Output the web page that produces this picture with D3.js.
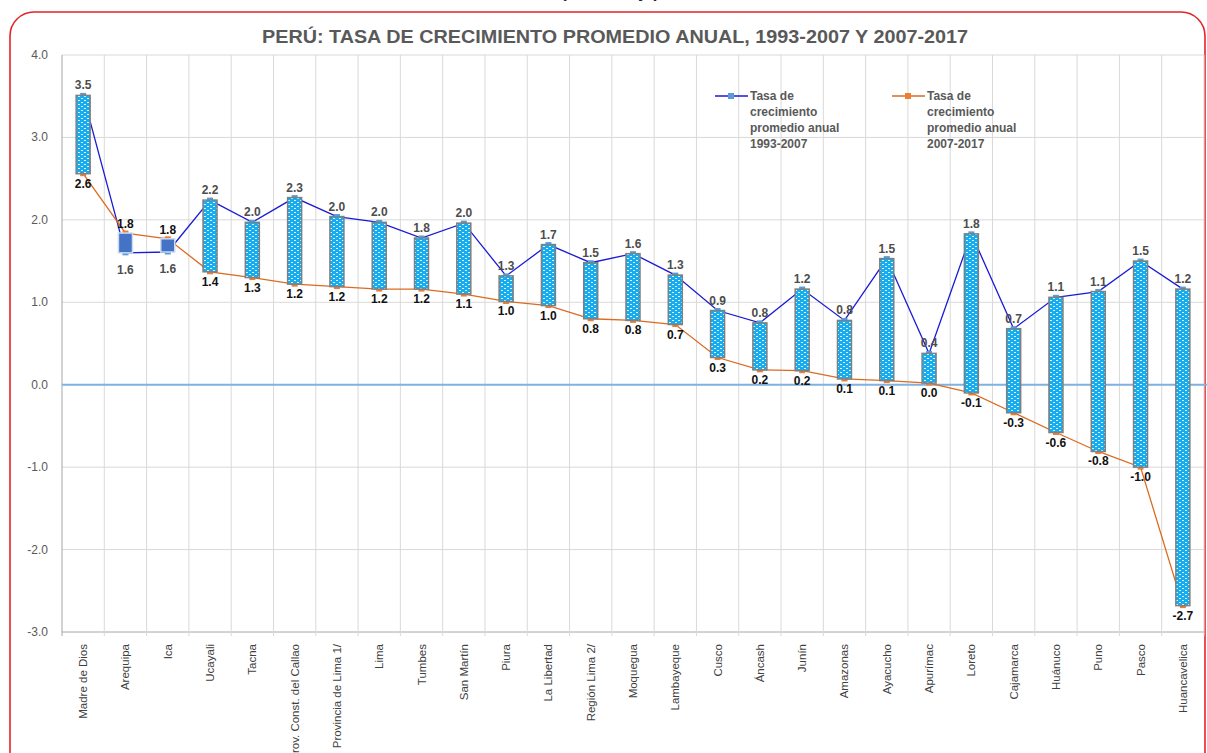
<!DOCTYPE html>
<html>
<head>
<meta charset="utf-8">
<script src="https://cdn.jsdelivr.net/npm/d3@7"></script>
<style>
  body { margin: 0; background: #fff; }
  svg { display: block; font-family: "Liberation Sans", Arial, sans-serif; }
</style>
</head>
<body>
<div class="chart"></div>
<script>
const regions = [
  "Madre de Dios", "Arequipa", "Ica", "Ucayali", "Tacna", "Prov. Const. del Callao",
  "Provincia de Lima 1/", "Lima", "Tumbes", "San Martín", "Piura", "La Libertad",
  "Región Lima 2/", "Moquegua", "Lambayeque", "Cusco", "Áncash", "Junín", "Amazonas",
  "Ayacucho", "Apurímac", "Loreto", "Cajamarca", "Huánuco", "Puno", "Pasco", "Huancavelica"
];
const tasa1993 = [
  3.51, 1.60, 1.61, 2.24, 1.97, 2.27, 2.04, 1.97, 1.78, 1.96, 1.32, 1.70, 1.48, 1.59,
  1.33, 0.90, 0.75, 1.16, 0.78, 1.53, 0.38, 1.83, 0.68, 1.06, 1.13, 1.50, 1.16
];
const tasa2007 = [
  2.56, 1.84, 1.77, 1.37, 1.30, 1.22, 1.19, 1.16, 1.16, 1.10, 1.01, 0.96, 0.80, 0.78,
  0.73, 0.33, 0.18, 0.17, 0.07, 0.05, 0.02, -0.10, -0.34, -0.58, -0.81, -1.00, -2.68
];
const yTicks = [4, 3, 2, 1, 0, -1, -2, -3];
const legendLabels = [
  ["Tasa de", "crecimiento", "promedio anual", "1993-2007"],
  ["Tasa de", "crecimiento", "promedio anual", "2007-2017"]
];

const w = 1207;
const h = 753;
const plotLeft = 62, plotRight = 1204, plotTop = 55, plotBottom = 632;
const blue = "#1a1ad6";
const orange = "#dc6a1f";

// plain hyphen for negatives, like the original
const fmt = (v) => (Math.round(v * 10) / 10).toFixed(1);

const svg = d3.select(".chart").append("svg").attr("width", w).attr("height", h);

// pattern for the down bars
const pat = svg.append("defs").append("pattern")
  .attr("id", "dots").attr("patternUnits", "userSpaceOnUse")
  .attr("width", 6).attr("height", 4);
pat.append("rect").attr("width", 6).attr("height", 4).attr("fill", "#14aef0");
pat.append("rect").attr("x", 0).attr("y", 0).attr("width", 2).attr("height", 1).attr("fill", "#e8f6fd");
pat.append("rect").attr("x", 3).attr("y", 2).attr("width", 2).attr("height", 1).attr("fill", "#e8f6fd");

// frame and header
svg.append("rect")
  .attr("x", 10).attr("y", 12).attr("width", 1195).attr("height", 820)
  .attr("rx", 24).attr("fill", "none").attr("stroke", "#e2252b").attr("stroke-width", 1.6);

svg.append("text")
  .attr("x", 610).attr("y", -2).attr("text-anchor", "middle")
  .attr("font-size", 17).attr("font-weight", "bold").attr("fill", "#262626")
  .text("(Porcentaje)");

svg.append("text")
  .attr("x", 615).attr("y", 43).attr("text-anchor", "middle")
  .attr("font-family", "'Liberation Sans Narrow', 'Liberation Sans', sans-serif")
  .attr("font-size", 19).attr("font-weight", "bold").attr("fill", "#595959")
  .attr("textLength", 706).attr("lengthAdjust", "spacingAndGlyphs")
  .text("PERÚ: TASA DE CRECIMIENTO PROMEDIO ANUAL, 1993-2007 Y 2007-2017");

const xScale = d3.scaleBand().domain(regions).range([plotLeft, plotRight]);
const yScale = d3.scaleLinear().domain([-3, 4]).range([plotBottom, plotTop]);
const cx = (d) => xScale(d) + xScale.bandwidth() / 2;

// grid
svg.append("g")
  .selectAll("line")
  .data(yTicks)
  .enter()
  .append("line")
  .attr("x1", plotLeft).attr("x2", plotRight)
  .attr("y1", (d) => yScale(d)).attr("y2", (d) => yScale(d))
  .attr("stroke", (d) => (d === -3 ? "#a6a6a6" : "#d9d9d9"))
  .attr("stroke-width", 1);

svg.append("g")
  .selectAll("line")
  .data(regions)
  .enter()
  .append("line")
  .attr("x1", (d) => xScale(d) + xScale.bandwidth())
  .attr("x2", (d) => xScale(d) + xScale.bandwidth())
  .attr("y1", plotTop).attr("y2", plotBottom + 4)
  .attr("stroke", "#d9d9d9");

svg.append("line")
  .attr("x1", plotLeft).attr("x2", plotLeft).attr("y1", plotTop).attr("y2", plotBottom + 4)
  .attr("stroke", "#a6a6a6");

svg.append("line")
  .attr("x1", plotLeft).attr("x2", w).attr("y1", yScale(0)).attr("y2", yScale(0))
  .attr("stroke", "#7fb2e0").attr("stroke-width", 2);

// y axis labels
svg.append("g")
  .selectAll("text")
  .data(yTicks)
  .enter()
  .append("text")
  .attr("x", 48).attr("y", (d) => yScale(d) + 4)
  .attr("text-anchor", "end").attr("font-size", 12).attr("fill", "#595959")
  .text((d) => fmt(d));

// x axis labels
svg.append("g")
  .selectAll("text")
  .data(regions)
  .enter()
  .append("text")
  .attr("transform", (d) => "translate(" + (cx(d) + 4) + "," + (plotBottom + 12) + ") rotate(-90)")
  .attr("text-anchor", "end").attr("font-size", 11.5).attr("fill", "#404040")
  .text((d) => d);

// lines
const line1 = d3.line().x((d, i) => cx(regions[i])).y((d) => yScale(d));
svg.append("path").datum(tasa1993).attr("d", line1)
  .attr("fill", "none").attr("stroke", blue).attr("stroke-width", 1.3);
svg.append("path").datum(tasa2007).attr("d", line1)
  .attr("fill", "none").attr("stroke", orange).attr("stroke-width", 1.3);

// markers
svg.append("g").selectAll("rect").data(tasa1993).enter().append("rect")
  .attr("x", (d, i) => cx(regions[i]) - 3).attr("y", (d) => yScale(d) - 2.5)
  .attr("width", 6).attr("height", 5).attr("fill", "#5b9bd5");
svg.append("g").selectAll("rect").data(tasa2007).enter().append("rect")
  .attr("x", (d, i) => cx(regions[i]) - 3).attr("y", (d) => yScale(d) - 2.5)
  .attr("width", 6).attr("height", 5).attr("fill", "#ed7d31");

// up / down bars
svg.append("g")
  .selectAll("rect")
  .data(regions)
  .enter()
  .append("rect")
  .attr("x", (d) => cx(d) - 7)
  .attr("y", (d, i) => yScale(Math.max(tasa1993[i], tasa2007[i])))
  .attr("width", 14)
  .attr("height", (d, i) => Math.abs(yScale(tasa1993[i]) - yScale(tasa2007[i])))
  .attr("fill", (d, i) => (tasa2007[i] > tasa1993[i] ? "#4472c4" : "url(#dots)"))
  .attr("stroke", (d, i) => (tasa2007[i] > tasa1993[i] ? "#c9dcf2" : "#7f7f7f"))
  .attr("stroke-width", 1.5);

// value labels
svg.append("g")
  .selectAll("text")
  .data(tasa1993)
  .enter()
  .append("text")
  .attr("x", (d, i) => cx(regions[i]))
  .attr("y", (d, i) => (tasa2007[i] > d ? yScale(d) + 21 : yScale(d) - 6))
  .attr("text-anchor", "middle").attr("font-size", 12).attr("font-weight", "bold")
  .attr("fill", "#4d4d4d")
  .text((d) => fmt(d));

svg.append("g")
  .selectAll("text")
  .data(tasa2007)
  .enter()
  .append("text")
  .attr("x", (d, i) => cx(regions[i]))
  .attr("y", (d, i) => (d > tasa1993[i] ? yScale(d) - 5 : yScale(d) + 14))
  .attr("text-anchor", "middle").attr("font-size", 12).attr("font-weight", "bold")
  .attr("fill", "#111")
  .text((d) => fmt(d));

// legend
const legend = svg.append("g")
  .selectAll("g")
  .data(legendLabels)
  .enter()
  .append("g")
  .attr("transform", (d, i) => "translate(" + (715 + i * 177) + ",96)");

legend.append("line")
  .attr("x1", 0).attr("x2", 33).attr("y1", 0).attr("y2", 0)
  .attr("stroke", (d, i) => (i === 0 ? blue : orange)).attr("stroke-width", 1.3);
legend.append("rect")
  .attr("x", 13).attr("y", -3).attr("width", 6).attr("height", 6)
  .attr("fill", (d, i) => (i === 0 ? "#5b9bd5" : "#ed7d31"));
legend.append("text")
  .attr("x", 35).attr("y", 4)
  .attr("font-size", 12).attr("font-weight", "bold").attr("fill", "#595959")
  .selectAll("tspan")
  .data((d) => d)
  .enter()
  .append("tspan")
  .attr("x", 35)
  .attr("dy", (d, i) => (i === 0 ? 0 : 16))
  .text((d) => d);
</script>
</body>
</html>
